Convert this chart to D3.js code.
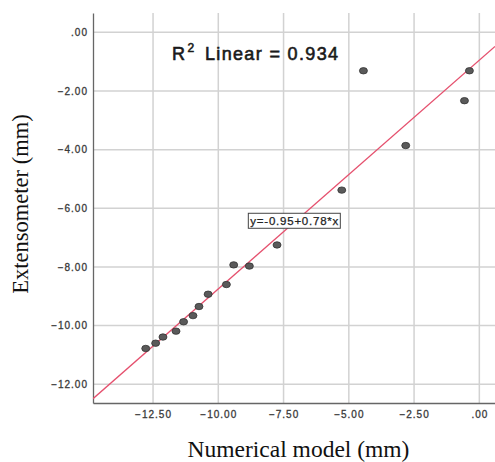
<!DOCTYPE html>
<html>
<head>
<meta charset="utf-8">
<script src="https://cdn.jsdelivr.net/npm/d3@7"></script>
<style>
  body { margin: 0; background: #fff; }
  svg { display: block; }
</style>
</head>
<body>
<div id="chart"></div>
<script>
// Numerical model (x) vs Extensometer (y), mm
const numericalModel = [-12.78, -12.40, -12.12, -11.62, -11.33, -10.97, -10.74, -10.39, -9.69, -9.41, -8.81, -7.75, -5.27, -4.44, -2.82, -0.57, -0.38];
const extensometer  = [-10.78, -10.60, -10.39, -10.19, -9.87, -9.66, -9.35, -8.93, -8.60, -7.93, -7.97, -7.25, -5.38, -1.31, -3.86, -2.33, -1.31];

const xTicks = [-12.5, -10, -7.5, -5, -2.5, 0];
const yTicks = [0, -2, -4, -6, -8, -10, -12];

const intercept = -0.95;
const slope = 0.78;
const rSquared = 0.934;

const width = 495, height = 462;
const plot = { left: 93, right: 495, top: 13, bottom: 403 };

const svg = d3.select("#chart").append("svg")
    .attr("width", width)
    .attr("height", height);

const x = d3.scaleLinear().domain([-14.8, 0.6]).range([plot.left, plot.right]);
const y = d3.scaleLinear().domain([-12.64, 0.66]).range([plot.bottom, plot.top]);

// SPSS style labels: ".00", "-2.00"
const fmt = v => v === 0 ? ".00" : d3.format(".2f")(v);
const sans = "'Liberation Sans', Arial, sans-serif";
const serif = "'Liberation Serif', 'Times New Roman', serif";

// gridlines
svg.append("g")
    .selectAll("line")
    .data(xTicks)
    .join("line")
    .attr("x1", d => x(d)).attr("x2", d => x(d))
    .attr("y1", plot.top).attr("y2", plot.bottom)
    .attr("stroke", "#d2d2d2")
    .attr("stroke-width", 1.5);

svg.append("g")
    .selectAll("line")
    .data(yTicks)
    .join("line")
    .attr("x1", plot.left).attr("x2", plot.right)
    .attr("y1", d => y(d)).attr("y2", d => y(d))
    .attr("stroke", "#d2d2d2")
    .attr("stroke-width", 1.5);

// axes
const xAxis = svg.append("g")
    .attr("transform", `translate(0,${plot.bottom})`)
    .call(d3.axisBottom(x).tickValues(xTicks).tickFormat(fmt).tickSize(0).tickPadding(8));

const yAxis = svg.append("g")
    .attr("transform", `translate(${plot.left},0)`)
    .call(d3.axisLeft(y).tickValues(yTicks).tickFormat(fmt).tickSize(0).tickPadding(5));

[xAxis, yAxis].forEach(a => {
    a.select(".domain").attr("stroke", "#666").attr("stroke-width", 1.3);
    a.selectAll("text")
        .attr("fill", "#3a3a3a")
        .attr("stroke", "#3a3a3a")
        .attr("stroke-width", 0.3)
        .style("font-family", sans)
        .style("font-size", "10px")
        .style("letter-spacing", "1px");
});

// regression line, clipped to plot area
svg.append("clipPath").attr("id", "plotclip")
    .append("rect")
    .attr("x", plot.left).attr("y", plot.top)
    .attr("width", plot.right - plot.left).attr("height", plot.bottom - plot.top);

const xd = x.domain();
svg.append("line")
    .attr("clip-path", "url(#plotclip)")
    .attr("x1", x(xd[0])).attr("y1", y(intercept + slope * xd[0]))
    .attr("x2", x(xd[1])).attr("y2", y(intercept + slope * xd[1]))
    .attr("stroke", "#e5506e")
    .attr("stroke-width", 1.3);

// points
svg.append("g")
    .selectAll("ellipse")
    .data(numericalModel.map((v, i) => [v, extensometer[i]]))
    .join("ellipse")
    .attr("cx", d => x(d[0]))
    .attr("cy", d => y(d[1]))
    .attr("rx", 4)
    .attr("ry", 3.2)
    .attr("fill", "#5a5a5a")
    .attr("stroke", "#333")
    .attr("stroke-width", 0.8);

// R squared label
const rg = svg.append("g")
    .style("font-family", sans)
    .attr("fill", "#1a1a1a")
    .attr("stroke", "#1a1a1a")
    .attr("stroke-width", 0.6);
rg.append("text").attr("x", 172).attr("y", 60).style("font-size", "18px").text("R");
rg.append("text").attr("x", 187.5).attr("y", 52).style("font-size", "12px").text("2");
rg.append("text").attr("x", 205).attr("y", 60).style("font-size", "18px")
    .attr("textLength", 133).attr("lengthAdjust", "spacing")
    .text(`Linear = ${rSquared}`);

// equation label box
const eqX = -8.85, eqY = -6.17;
const eq = svg.append("g");
eq.append("rect")
    .attr("x", x(eqX))
    .attr("y", y(eqY))
    .attr("width", 92)
    .attr("height", 15)
    .attr("fill", "#fff")
    .attr("stroke", "#444")
    .attr("stroke-width", 1);
eq.append("text")
    .attr("x", x(eqX) + 2)
    .attr("y", y(eqY) + 11.5)
    .style("font-family", sans)
    .style("font-size", "11.5px")
    .attr("fill", "#222")
    .attr("stroke", "#222")
    .attr("stroke-width", 0.25)
    .attr("textLength", 88).attr("lengthAdjust", "spacing")
    .text(`y=${intercept}+${slope}*x`);

// axis titles
svg.append("text")
    .attr("x", 298.5)
    .attr("y", 457)
    .attr("text-anchor", "middle")
    .style("font-family", serif)
    .style("font-size", "23.5px")
    .attr("fill", "#111")
    .text("Numerical model (mm)");

svg.append("text")
    .attr("transform", "translate(28,204) rotate(-90)")
    .attr("text-anchor", "middle")
    .style("font-family", serif)
    .style("font-size", "22.5px")
    .attr("fill", "#111")
    .text("Extensometer (mm)");
</script>
</body>
</html>
